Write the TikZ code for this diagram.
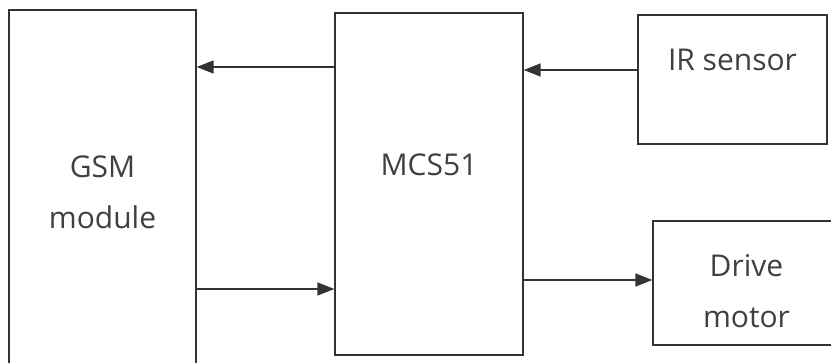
\documentclass[tikz,border=0pt]{standalone}
\usepackage{fontspec}
\setmainfont{Open Sans}
\usetikzlibrary{arrows.meta, positioning}

\begin{document}
\begin{tikzpicture}[
    x=1pt, y=-1pt,
    font=\fontsize{30}{51}\selectfont,
    block/.style={
      draw=black!80,
      line width=1.3pt,
      text=black!75,
      align=center,
      inner sep=0pt
    },
    caption/.style={
      text=black!75,
      align=center,
      inner sep=0pt
    },
    arrow/.style={
      -{Triangle[length=17pt, width=13pt]},
      line width=1.6pt,
      draw=black!80
    }
  ]

    \useasboundingbox (0,0) rectangle (831,363);

    % Blocks
    \node[block, minimum width=187pt, minimum height=364pt] (gsm) at (102.5,192) {GSM\\module};
    \node[block, minimum width=188pt, minimum height=342pt,
      label={[caption, name=mcstext, yshift=19pt]center:MCS51}] (mcs) at (429,184) {};
    \node[block, minimum width=189pt, minimum height=129pt,
      label={[caption, name=irtext, yshift=20pt]center:IR sensor}] (ir) at (732.5,79.5) {};
    \node[block, minimum width=187pt, minimum height=124pt,
      label={[caption, name=drivetext, yshift=-8pt]center:Drive\\motor}] (drive) at (746.5,283) {};

    % Connection points on the block sides
    \coordinate (mcsout) at ([yshift=117pt]mcs.west);
    \coordinate (gsmout) at ([yshift=-97pt]gsm.east);
    \coordinate (irout) at ([yshift=9.5pt]ir.west);
    \coordinate (mcsdrive) at ([yshift=-96pt]mcs.east);

    % Arrows
    \draw[arrow] (mcsout) -- (mcsout -| gsm.east);
    \draw[arrow] (gsmout) -- (gsmout -| mcs.west);
    \draw[arrow] (irout) -- (irout -| mcs.east);
    \draw[arrow] (mcsdrive) -- (mcsdrive -| drive.west);

  \end{tikzpicture}
\end{document}
